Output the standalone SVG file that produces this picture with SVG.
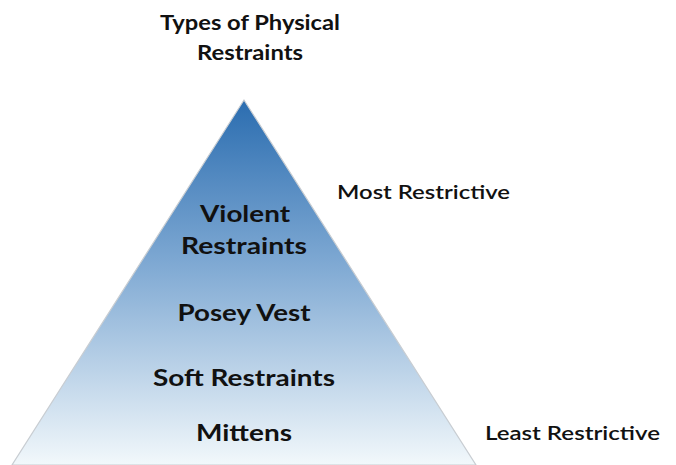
<svg xmlns="http://www.w3.org/2000/svg" width="676" height="465" viewBox="0 0 676 465">
  <defs>
    <linearGradient id="pyr" x1="0" y1="100" x2="0" y2="465" gradientUnits="userSpaceOnUse">
      <stop offset="0" stop-color="#2B6DB0"/>
      <stop offset="0.45" stop-color="#7FA9D3"/>
      <stop offset="1" stop-color="#F2F8FB"/>
    </linearGradient>
  </defs>
  <style>
    .t { font-family: Lato, "Open Sans", "Liberation Sans", sans-serif; font-weight: bold; fill: #111; }
    .c { text-anchor: middle; }
    .side { font-weight: 600; }
  </style>
  <rect width="676" height="465" fill="#FFFFFF"/>
  <g id="title">
    <text class="t c" x="250" y="30" font-size="21" textLength="180" lengthAdjust="spacingAndGlyphs">Types of Physical</text>
    <text class="t c" x="250" y="60" font-size="21" textLength="106" lengthAdjust="spacingAndGlyphs">Restraints</text>
  </g>
  <g id="pyramid">
    <polygon points="244,100 12,465 476,465" fill="url(#pyr)" stroke="#C8CDD2" stroke-width="1.2"/>
  </g>
  <g id="violent">
    <text class="t c" x="245" y="222" font-size="22" textLength="90" lengthAdjust="spacingAndGlyphs">Violent</text>
    <text class="t c" x="244" y="254" font-size="22" textLength="126" lengthAdjust="spacingAndGlyphs">Restraints</text>
  </g>
  <g id="posey">
    <text class="t c" x="244" y="321" font-size="22" textLength="133" lengthAdjust="spacingAndGlyphs">Posey Vest</text>
  </g>
  <g id="soft">
    <text class="t c" x="244" y="386" font-size="22" textLength="182" lengthAdjust="spacingAndGlyphs">Soft Restraints</text>
  </g>
  <g id="mittens">
    <text class="t c" x="244" y="441" font-size="22" textLength="96" lengthAdjust="spacingAndGlyphs">Mittens</text>
  </g>
  <g id="most">
    <text class="t side" x="337" y="199" font-size="19" textLength="173" lengthAdjust="spacingAndGlyphs">Most Restrictive</text>
  </g>
  <g id="least">
    <text class="t side" x="485" y="440" font-size="19" textLength="175" lengthAdjust="spacingAndGlyphs">Least Restrictive</text>
  </g>
  <g id="connectors"/>
</svg>
